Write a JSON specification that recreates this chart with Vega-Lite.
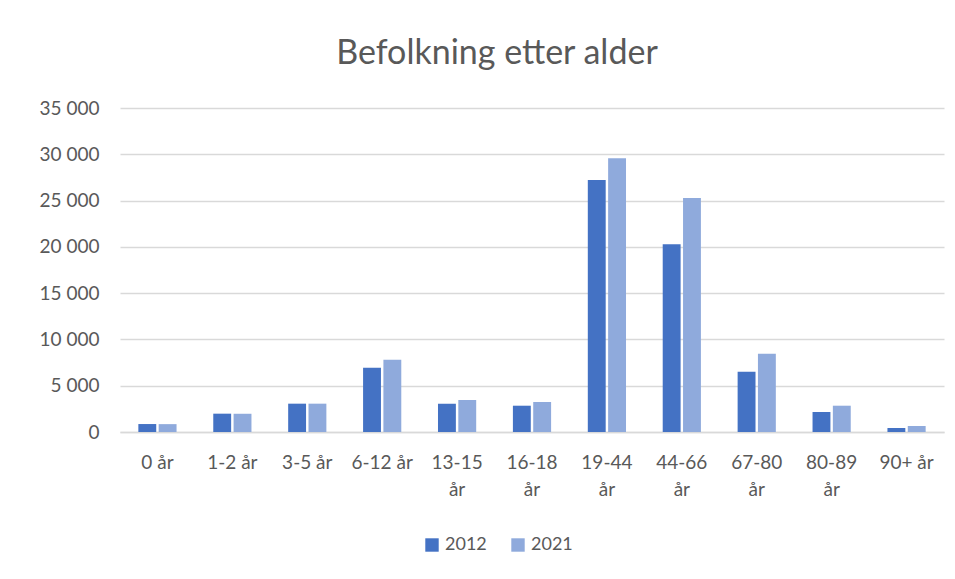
{
  "$schema": "https://vega.github.io/schema/vega-lite/v6.json",
  "width": 824,
  "height": 324,
  "padding": {"left": 39, "top": 37, "right": 10, "bottom": 10},
  "background": "white",
  "title": {
    "text": "Befolkning etter alder",
    "font": "Lato",
    "fontSize": 34,
    "fontWeight": "normal",
    "color": "#595959",
    "anchor": "middle",
    "dx": -35,
    "offset": 28
  },
  "data": {
    "values": [
      {"alder": "0 år", "år": "2012", "antall": 860},
      {"alder": "0 år", "år": "2021", "antall": 850},
      {"alder": "1-2 år", "år": "2012", "antall": 1980},
      {"alder": "1-2 år", "år": "2021", "antall": 1970},
      {"alder": "3-5 år", "år": "2012", "antall": 3060},
      {"alder": "3-5 år", "år": "2021", "antall": 3060},
      {"alder": "6-12 år", "år": "2012", "antall": 6930},
      {"alder": "6-12 år", "år": "2021", "antall": 7800},
      {"alder": "13-15 år", "år": "2012", "antall": 3060},
      {"alder": "13-15 år", "år": "2021", "antall": 3460},
      {"alder": "16-18 år", "år": "2012", "antall": 2840},
      {"alder": "16-18 år", "år": "2021", "antall": 3240},
      {"alder": "19-44 år", "år": "2012", "antall": 27220},
      {"alder": "19-44 år", "år": "2021", "antall": 29570},
      {"alder": "44-66 år", "år": "2012", "antall": 20290},
      {"alder": "44-66 år", "år": "2021", "antall": 25270},
      {"alder": "67-80 år", "år": "2012", "antall": 6500},
      {"alder": "67-80 år", "år": "2021", "antall": 8450},
      {"alder": "80-89 år", "år": "2012", "antall": 2160},
      {"alder": "80-89 år", "år": "2021", "antall": 2840},
      {"alder": "90+ år", "år": "2012", "antall": 430},
      {"alder": "90+ år", "år": "2021", "antall": 650}
    ]
  },
  "mark": {"type": "bar"},
  "encoding": {
    "x": {
      "field": "alder",
      "type": "nominal",
      "sort": null,
      "scale": {"paddingInner": 0.49, "paddingOuter": 0.245},
      "axis": {
        "title": null,
        "labelAngle": 0,
        "labelExpr": "length(datum.label) > 7 ? split(datum.label, ' ') : datum.label",
        "labelFont": "Lato",
        "labelFontSize": 19,
        "labelColor": "#595959",
        "labelLineHeight": 27,
        "labelPadding": 21,
        "labelBaseline": "top",
        "ticks": false,
        "domainColor": "#d9d9d9",
        "domainWidth": 1.5
      }
    },
    "xOffset": {"field": "år", "type": "nominal", "scale": {"paddingInner": 0.12}},
    "y": {
      "field": "antall",
      "type": "quantitative",
      "scale": {"domain": [0, 35000]},
      "axis": {
        "title": null,
        "values": [0, 5000, 10000, 15000, 20000, 25000, 30000, 35000],
        "labelExpr": "replace(format(datum.value, ','), ',', ' ')",
        "labelFont": "Lato",
        "labelFontSize": 19,
        "labelColor": "#595959",
        "labelPadding": 21,
        "ticks": false,
        "domain": false,
        "gridColor": "#d9d9d9",
        "gridWidth": 1.5
      }
    },
    "color": {
      "field": "år",
      "type": "nominal",
      "scale": {"domain": ["2012", "2021"], "range": ["#4472C4", "#8FAADC"]},
      "legend": {
        "title": null,
        "orient": "none",
        "legendX": 303,
        "legendY": 428,
        "direction": "horizontal",
        "symbolType": "square",
        "symbolSize": 180,
        "symbolStrokeWidth": 0,
        "labelFont": "Lato",
        "labelFontSize": 18,
        "labelColor": "#595959",
        "columnPadding": 22
      }
    }
  },
  "config": {"view": {"stroke": null}}
}
